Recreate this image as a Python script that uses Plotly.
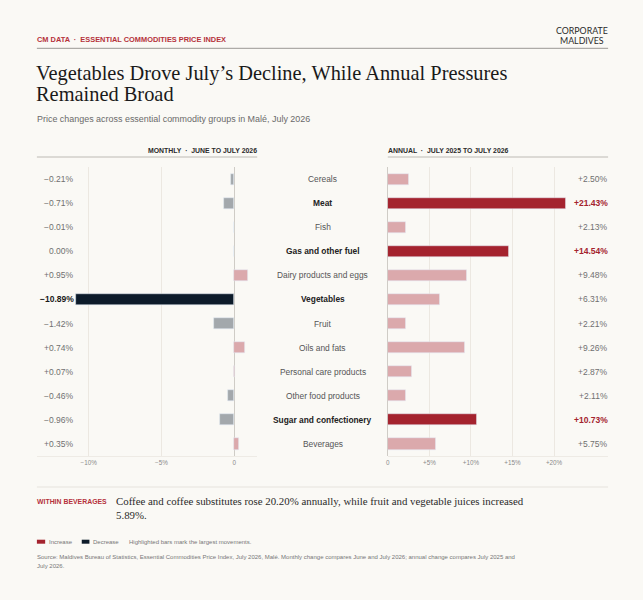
import plotly.graph_objects as go

W, H = 643, 600

categories = ["Cereals", "Meat", "Fish", "Gas and other fuel", "Dairy products and eggs",
              "Vegetables", "Fruit", "Oils and fats", "Personal care products",
              "Other food products", "Sugar and confectionery", "Beverages"]
monthly = [-0.21, -0.71, -0.01, 0.00, 0.95, -10.89, -1.42, 0.74, 0.07, -0.46, -0.96, 0.35]
annual = [2.50, 21.43, 2.13, 14.54, 9.48, 6.31, 2.21, 9.26, 2.87, 2.11, 10.73, 5.75]
monthly_highlight = ["Vegetables"]
annual_highlight = ["Meat", "Gas and other fuel", "Sugar and confectionery"]

left_tickvals = [-10, -5, 0]
left_ticktext = ["\u221210%", "\u22125%", "0"]
right_tickvals = [0, 5, 10, 15, 20]
right_ticktext = ["0", "+5%", "+10%", "+15%", "+20%"]

BG = "#FAF9F5"
GREY = "#A3A8AC"
PINK = "#DBA9AC"
NAVY = "#0D1B2A"
RED = "#A4232E"
HDR_RED = "#B5323B"
SANS = "Liberation Sans, Arial, sans-serif"
SERIF = "Liberation Serif, Times New Roman, serif"


def px(x):
    return x / W


def py(y):
    return 1 - y / H


def fmt(v):
    if v > 0:
        return f"+{v:.2f}%"
    if v < 0:
        return f"\u2212{abs(v):.2f}%"
    return f"{v:.2f}%"


m_colors = [NAVY if c in monthly_highlight else (PINK if v > 0 else GREY)
            for c, v in zip(categories, monthly)]
a_colors = [RED if c in annual_highlight else PINK for c in categories]

fig = go.Figure()
fig.add_trace(go.Bar(x=monthly, y=categories, orientation="h", marker_color=m_colors,
                     width=0.46, xaxis="x", yaxis="y", hoverinfo="skip", showlegend=False))
fig.add_trace(go.Bar(x=annual, y=categories, orientation="h", marker_color=a_colors,
                     width=0.46, xaxis="x2", yaxis="y2", hoverinfo="skip", showlegend=False))

ydom = [py(456), py(167)]
axis_common = dict(showgrid=True, gridcolor="#ECE8E1", gridwidth=1,
                   zeroline=True, zerolinecolor="#CFCCC6", zerolinewidth=1,
                   showline=True, linecolor="#EEEBE5", linewidth=1,
                   ticks="", tickfont=dict(family=SANS, size=6.3, color="#8A8A8A"),
                   fixedrange=True)

annotations = []
shapes = []
NOPAD = dict(borderpad=0, borderwidth=0, showarrow=False)


def text(x, y, t, size, color, family=SANS, xanchor="left", align="left"):
    annotations.append(dict(xref="paper", yref="paper", x=px(x), y=py(y), xanchor=xanchor,
                            yanchor="middle", text=t, align=align,
                            font=dict(family=family, size=size, color=color), **NOPAD))


# header
text(35, 40, "<b>CM DATA  \u00b7  ESSENTIAL COMMODITIES PRICE INDEX</b>", 7.4, HDR_RED)
text(582, 31, "CORPORATE", 8.8, "#2A2A2A", family="Lato, sans-serif", xanchor="center")
text(582, 40.5, "MALDIVES", 8.8, "#2A2A2A", family="Lato, sans-serif", xanchor="center")
shapes.append(dict(type="line", xref="paper", yref="paper", x0=px(35), x1=px(608), y0=py(48.3), y1=py(48.3),
                   line=dict(color="#9A9894", width=1)))
text(34.5, 73, "Vegetables Drove July\u2019s Decline, While Annual Pressures", 20.4, "#1A1A1A", family=SERIF)
text(34.5, 94.5, "Remained Broad", 20.4, "#1A1A1A", family=SERIF)
text(35, 118.5, "Price changes across essential commodity groups in Mal\u00e9, July 2026", 8.95, "#6A6A6A")

# panel headers
text(256, 150, "<b>MONTHLY  \u00b7  JUNE TO JULY 2026</b>", 6.9, "#2A2A2A", xanchor="right")
text(387, 150, "<b>ANNUAL  \u00b7  JULY 2025 TO JULY 2026</b>", 6.9, "#2A2A2A")
for x0, x1 in [(35, 256), (387, 608)]:
    shapes.append(dict(type="line", xref="paper", yref="paper", x0=px(x0), x1=px(x1), y0=py(157), y1=py(157),
                       line=dict(color="#BDBAB4", width=1)))

# row labels
for c, mv, av in zip(categories, monthly, annual):
    bold_c = c in monthly_highlight or c in annual_highlight
    annotations.append(dict(xref="paper", yref="y", x=0.5, y=c, xanchor="center", yanchor="middle",
                            text=f"<b>{c}</b>" if bold_c else c,
                            font=dict(family=SANS, size=8.4, color="#222222" if bold_c else "#555555"),
                            **NOPAD))
    mh = c in monthly_highlight
    annotations.append(dict(xref="paper", yref="y", x=px(72.5), y=c, xanchor="right", yanchor="middle",
                            text=f"<b>{fmt(mv)}</b>" if mh else fmt(mv),
                            font=dict(family=SANS, size=8.5, color="#1A1A1A" if mh else "#707070"),
                            **NOPAD))
    ah = c in annual_highlight
    annotations.append(dict(xref="paper", yref="y", x=px(608), y=c, xanchor="right", yanchor="middle",
                            text=f"<b>{fmt(av)}</b>" if ah else fmt(av),
                            font=dict(family=SANS, size=8.5, color=RED if ah else "#707070"),
                            **NOPAD))

# footer
shapes.append(dict(type="line", xref="paper", yref="paper", x0=px(35), x1=px(608), y0=py(487), y1=py(487),
                   line=dict(color="#E6E3DD", width=1)))
text(35, 501.5, "<b>WITHIN BEVERAGES</b>", 6.9, HDR_RED)
text(114.5, 501, "Coffee and coffee substitutes rose 20.20% annually, while fruit and vegetable juices increased",
     10.85, "#2A2A2A", family=SERIF)
text(114.5, 515, "5.89%.", 10.85, "#2A2A2A", family=SERIF)

shapes.append(dict(type="rect", xref="paper", yref="paper", x0=px(35), x1=px(43.3), y0=py(543.7), y1=py(539.7),
                   fillcolor=RED, line=dict(width=0)))
shapes.append(dict(type="rect", xref="paper", yref="paper", x0=px(80), x1=px(87.7), y0=py(543.7), y1=py(539.7),
                   fillcolor=NAVY, line=dict(width=0)))
for x, t in [(46.7, "Increase"), (91.7, "Decrease"), (127, "Highlighted bars mark the largest movements.")]:
    text(x, 541.7, t, 6.0, "#777777")
text(35, 556.5, "Source: Maldives Bureau of Statistics, Essential Commodities Price Index, July 2026, Mal\u00e9. "
     "Monthly change compares June and July 2026; annual change compares July 2025 and", 6.0, "#777777")
text(35, 565.5, "July 2026.", 6.0, "#777777")

fig.update_layout(
    width=W, height=H, margin=dict(l=0, r=0, t=0, b=0),
    paper_bgcolor=BG, plot_bgcolor=BG, bargap=0, showlegend=False,
    xaxis=dict(domain=[px(35), px(256)], range=[-13.56, 1.58], tickvals=left_tickvals,
               ticktext=left_ticktext, anchor="y", **axis_common),
    xaxis2=dict(domain=[px(387), px(608)], range=[0, 26.5], tickvals=right_tickvals,
                ticktext=right_ticktext, anchor="y2", **axis_common),
    yaxis=dict(domain=ydom, categoryorder="array", categoryarray=categories, autorange="reversed",
               showticklabels=False, showgrid=False, zeroline=False, fixedrange=True),
    yaxis2=dict(domain=ydom, categoryorder="array", categoryarray=categories, autorange="reversed",
                showticklabels=False, showgrid=False, zeroline=False, anchor="x2", fixedrange=True),
    annotations=annotations, shapes=shapes,
)

fig.write_html("out.html", config={"displayModeBar": False},
               post_script="document.body.style.margin='0';document.body.style.background='%s';" % BG)
